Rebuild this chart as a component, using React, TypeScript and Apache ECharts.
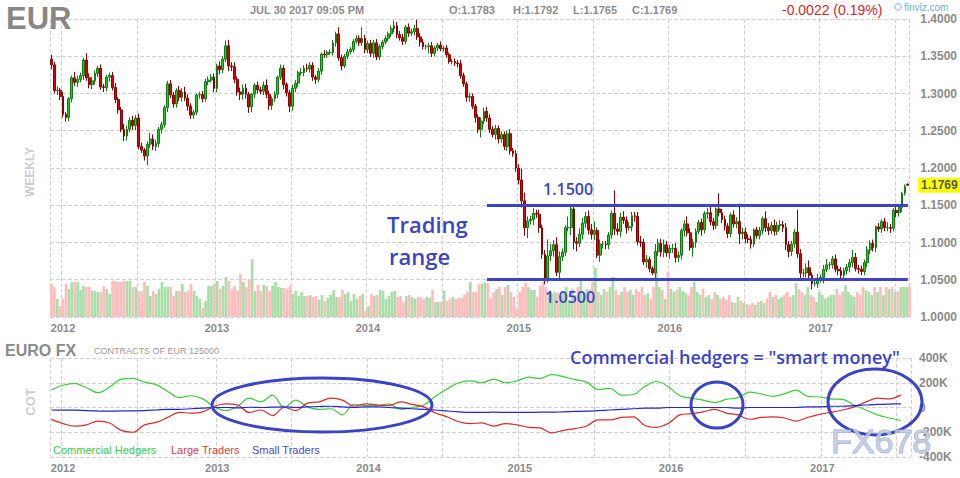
import React, { useEffect, useRef } from 'react';
import * as echarts from 'echarts';

// ---------- DATA ----------
const firstWeek = '2011-12-04';
const firstOpen = 1.346;
const lastOpen = 1.1783;

// weekly closes, Dec 2011 .. Jul 2017
const closes = [
  1.3385, 1.3040, 1.3045, 1.2960, 1.2720, 1.2680, 1.2930, 1.3210, 1.3150, 1.3190,
  1.3240, 1.3450, 1.3210, 1.3120, 1.3170, 1.3270, 1.3340, 1.3090, 1.3080, 1.3220,
  1.3240, 1.3080, 1.2920, 1.2780, 1.2520, 1.2430, 1.2520, 1.2640, 1.2570, 1.2670,
  1.2290, 1.2240, 1.2160, 1.2320, 1.2390, 1.2290, 1.2330, 1.2520, 1.2580, 1.2810,
  1.3130, 1.2980, 1.2860, 1.3040, 1.2950, 1.3020, 1.2940, 1.2830, 1.2710, 1.2750,
  1.2980, 1.2985, 1.2930, 1.3160, 1.3180, 1.3220, 1.3070, 1.3370, 1.3320, 1.3460,
  1.3640, 1.3370, 1.3360, 1.3190, 1.3020, 1.2990, 1.3070, 1.2990, 1.2820, 1.2990,
  1.3110, 1.3050, 1.3030, 1.3110, 1.2990, 1.2840, 1.2930, 1.2990, 1.3220, 1.3340,
  1.3120, 1.3010, 1.2830, 1.3070, 1.3140, 1.3280, 1.3280, 1.3340, 1.3330, 1.3380,
  1.3220, 1.3190, 1.3300, 1.3530, 1.3520, 1.3550, 1.3550, 1.3680, 1.3800, 1.3480,
  1.3370, 1.3500, 1.3560, 1.3590, 1.3700, 1.3740, 1.3680, 1.3740, 1.3590, 1.3670,
  1.3540, 1.3680, 1.3490, 1.3630, 1.3690, 1.3740, 1.3800, 1.3870, 1.3910, 1.3790,
  1.3750, 1.3700, 1.3890, 1.3810, 1.3830, 1.3870, 1.3760, 1.3690, 1.3630, 1.3630,
  1.3640, 1.3540, 1.3610, 1.3650, 1.3600, 1.3610, 1.3520, 1.3430, 1.3430, 1.3410,
  1.3400, 1.3240, 1.3130, 1.2950, 1.2960, 1.2830, 1.2680, 1.2520, 1.2630, 1.2760,
  1.2670, 1.2520, 1.2450, 1.2530, 1.2390, 1.2450, 1.2290, 1.2460, 1.2230, 1.2190,
  1.2000, 1.1840, 1.1560, 1.1200, 1.1290, 1.1310, 1.1390, 1.1380, 1.1200, 1.0840,
  1.0490, 1.0820, 1.0890, 1.0970, 1.0600, 1.0810, 1.0870, 1.1200, 1.1200, 1.1450,
  1.1010, 1.0990, 1.1110, 1.1260, 1.1350, 1.1170, 1.1110, 1.1160, 1.0830, 1.0980,
  1.0980, 1.0970, 1.1100, 1.1390, 1.1180, 1.1150, 1.1340, 1.1300, 1.1200, 1.1210,
  1.1360, 1.1350, 1.1010, 1.1000, 1.0740, 1.0770, 1.0650, 1.0590, 1.0880, 1.0990,
  1.0870, 1.0970, 1.0860, 1.0920, 1.0920, 1.0800, 1.0830, 1.1160, 1.1250, 1.1130,
  1.0930, 1.1000, 1.1150, 1.1270, 1.1170, 1.1390, 1.1400, 1.1280, 1.1230, 1.1450,
  1.1400, 1.1310, 1.1220, 1.1120, 1.1370, 1.1250, 1.1280, 1.1120, 1.1140, 1.1050,
  1.1040, 1.0980, 1.1170, 1.1090, 1.1160, 1.1320, 1.1200, 1.1160, 1.1230, 1.1150,
  1.1230, 1.1240, 1.1200, 1.0970, 1.0880, 1.0980, 1.1140, 1.0850, 1.0590, 1.0590,
  1.0660, 1.0560, 1.0450, 1.0450, 1.0520, 1.0530, 1.0640, 1.0700, 1.0700, 1.0780,
  1.0640, 1.0620, 1.0560, 1.0620, 1.0670, 1.0730, 1.0800, 1.0650, 1.0640, 1.0610,
  1.0730, 1.0900, 1.0990, 1.0930, 1.1210, 1.1180, 1.1280, 1.1200, 1.1200, 1.1190,
  1.1430, 1.1400, 1.1470, 1.1660, 1.1750, 1.1769,
];

// upper / lower shadows beyond the body, in thousandths
const upperWick = [
  6, 4, 5, 3, 6, 3, 2, 3, 8, 5,
  4, 3, 9, 6, 5, 4, 3, 5, 4, 3,
  4, 5, 6, 3, 4, 7, 5, 4, 6, 4,
  6, 5, 3, 4, 8, 6, 5, 3, 4, 3,
  4, 5, 4, 3, 6, 5, 7, 5, 4, 3,
  2, 4, 5, 4, 5, 4, 5, 3, 6, 4,
  7, 8, 5, 6, 4, 6, 5, 6, 3, 2,
  3, 5, 4, 5, 8, 5, 3, 4, 2, 5,
  4, 3, 4, 5, 4, 3, 6, 4, 6, 4,
  4, 3, 4, 2, 5, 3, 4, 4, 3, 9,
  4, 3, 4, 3, 3, 4, 4, 15, 5, 4,
  5, 4, 5, 3, 3, 4, 3, 4, 7, 5,
  5, 5, 3, 5, 4, 5, 12, 5, 4, 3,
  4, 5, 3, 3, 5, 3, 4, 3, 3, 4,
  4, 5, 4, 3, 5, 4, 3, 4, 5, 5,
  6, 5, 4, 5, 4, 4, 4, 4, 6, 4,
  5, 5, 15, 11, 6, 5, 7, 5, 6, 4,
  6, 22, 9, 6, 10, 7, 5, 3, 15, 3,
  4, 6, 8, 7, 6, 8, 8, 12, 4, 6,
  4, 4, 4, 4, 31, 8, 6, 8, 5, 6,
  5, 5, 6, 8, 5, 6, 4, 3, 10, 6,
  6, 7, 5, 5, 6, 7, 5, 3, 5, 10,
  6, 5, 4, 3, 5, 3, 6, 8, 5, 2,
  21, 5, 5, 4, 3, 6, 6, 24, 6, 6,
  6, 5, 2, 4, 5, 3, 10, 6, 5, 8,
  5, 6, 5, 6, 5, 4, 4, 30, 6, 6,
  6, 10, 4, 5, 6, 4, 6, 8, 4, 4,
  6, 5, 5, 4, 4, 5, 10, 6, 5, 5,
  4, 5, 4, 5, 2, 5, 3, 5, 7, 5,
  3, 7, 4, 2, 3, 0.9,
];
const lowerWick = [
  6, 4, 6, 5, 4, 6, 5, 5, 5, 6,
  4, 6, 4, 5, 6, 5, 5, 4, 6, 5,
  6, 4, 5, 5, 4, 7, 6, 4, 6, 6,
  4, 4, 6, 12, 5, 5, 6, 5, 6, 4,
  6, 4, 5, 5, 5, 6, 4, 6, 5, 5,
  4, 5, 5, 4, 5, 3, 5, 5, 6, 5,
  4, 7, 6, 5, 5, 8, 7, 6, 8, 7,
  5, 5, 4, 5, 5, 6, 6, 4, 5, 4,
  6, 5, 8, 6, 5, 5, 4, 5, 4, 5,
  5, 6, 4, 5, 4, 4, 3, 4, 5, 4,
  6, 3, 4, 3, 4, 3, 4, 4, 5, 5,
  5, 6, 4, 4, 4, 3, 4, 4, 5, 5,
  4, 5, 4, 5, 4, 5, 4, 6, 4, 4,
  9, 5, 4, 4, 3, 4, 4, 3, 4, 4,
  5, 4, 4, 6, 6, 4, 7, 5, 11, 4,
  5, 5, 4, 7, 6, 5, 5, 6, 5, 4,
  5, 6, 9, 11, 14, 5, 8, 5, 7, 6,
  5, 3, 7, 8, 5, 9, 6, 5, 5, 10,
  10, 11, 5, 7, 6, 6, 7, 8, 4, 9,
  6, 6, 6, 5, 8, 5, 7, 5, 8, 4,
  6, 7, 5, 6, 4, 8, 5, 3, 7, 6,
  6, 7, 5, 8, 6, 7, 6, 6, 8, 5,
  4, 12, 7, 4, 8, 5, 7, 5, 6, 5,
  5, 5, 6, 6, 5, 5, 6, 14, 8, 6,
  5, 6, 4, 4, 5, 5, 6, 6, 5, 6,
  5, 6, 6, 7, 8, 6, 5, 6, 7, 6,
  6, 7, 8, 4, 6, 6, 8, 4, 6, 5,
  4, 6, 4, 6, 5, 7, 6, 4, 6, 5,
  5, 6, 6, 5, 6, 4, 5, 5, 5, 6,
  4, 6, 5, 6, 3, 0.4,
];

// weekly volume (relative units)
const volume = [
  33, 30, 18, 11, 18, 33, 28, 35, 35, 35,
  27, 31, 30, 30, 26, 26, 25, 25, 31, 28,
  23, 36, 36, 35, 35, 36, 36, 36, 30, 30,
  25, 26, 35, 31, 21, 26, 23, 28, 35, 30,
  30, 30, 21, 26, 26, 33, 25, 26, 33, 26,
  21, 18, 9, 16, 31, 31, 33, 36, 28, 31,
  40, 36, 28, 31, 26, 43, 35, 30, 38, 58,
  26, 32, 26, 32, 31, 26, 31, 35, 30, 29,
  29, 28, 31, 23, 26, 21, 25, 21, 21, 22,
  20, 21, 17, 22, 16, 19, 22, 27, 20, 20,
  27, 23, 25, 16, 23, 18, 21, 23, 6, 11,
  23, 21, 22, 27, 26, 18, 21, 25, 26, 20,
  21, 15, 21, 22, 20, 18, 20, 20, 18, 20,
  19, 27, 15, 15, 15, 26, 16, 18, 20, 18,
  19, 19, 22, 25, 35, 25, 25, 33, 33, 34,
  34, 19, 25, 28, 30, 22, 30, 32, 25, 20,
  8, 25, 30, 34, 30, 27, 27, 20, 31, 35,
  30, 25, 23, 25, 24, 21, 25, 30, 17, 28,
  22, 30, 38, 25, 28, 27, 35, 49, 25, 22,
  28, 25, 30, 40, 27, 22, 25, 30, 25, 27,
  22, 28, 25, 30, 22, 24, 18, 30, 45, 30,
  27, 18, 45, 28, 25, 27, 30, 26, 24, 22,
  30, 35, 25, 22, 28, 20, 22, 18, 25, 22,
  18, 20, 17, 22, 15, 14, 20, 16, 14, 13,
  12, 14, 12, 15, 16, 14, 18, 25, 20, 22,
  18, 20, 22, 25, 20, 22, 34, 28, 25, 22,
  30, 22, 20, 15, 25, 22, 18, 20, 22, 22,
  28, 22, 25, 32, 25, 22, 20, 25, 22, 30,
  27, 25, 22, 30, 25, 30, 22, 30, 28, 30,
  25, 26, 30, 30, 30, 30,
];

// COT net positions (thousand contracts), one reading every 4 weeks
const cotStep = 4;
const cotHedgers = [
  144, 180, 195, 160, 120, 165, 230, 235, 205, 185,
  130, 80, 95, 70, 5, -25, 10, 75, 45, 100,
  0, 60, 5, -15, -10, -60, 25, 15, 15, 30,
  -15, 0, 20, 90, 150, 200, 215, 200, 230, 200,
  215, 245, 235, 265, 250, 225, 205, 145, 155, 100,
  105, 170, 210, 170, 95, 75, 60, 40, 65, 80,
  125, 110, 90, 110, 140, 90, 85, 70, 65, 20,
  -20, -60, -85, -105,
];
const cotLarge = [
  -96, -130, -150, -140, -110, -125, -185, -200, -140, -120,
  -80, -40, -45, -35, 10, 30, 20, -40, -20, -65,
  0, -25, 35, 45, 75, 60, 10, 30, 20, 15,
  45, 25, 5, -45, -75, -115, -130, -125, -150, -130,
  -140, -160, -165, -205, -185, -170, -150, -100, -100, -80,
  -75, -145, -160, -130, -60, -50, -35, -15, -45, -60,
  -95, -80, -75, -85, -110, -80, -55, -40, -20, 5,
  45, 75, 70, 100,
];
const cotSmall = [
  -20, -22, -22, -25, -28, -30, -28, -28, -25, -20,
  -15, -15, -10, -5, 0, 0, -3, 2, 0, 3,
  5, 0, 5, 8, 10, 5, 0, 5, 5, 0,
  -5, -10, -15, -20, -28, -35, -40, -40, -38, -40,
  -40, -40, -38, -38, -35, -32, -30, -25, -20, -15,
  -10, -5, -5, 0, 0, 0, 0, 0, 0, -5,
  0, 0, 0, 0, 0, 5, 5, 10, 10, 15,
  20, 25, 28, 30,
];

const rangeLevels = [1.15, 1.05];
const rangeStartWeek = '2014-10-19';

// ---------- derived ----------
const weeks = closes.map((_, i) => {
  const [y, m, d] = firstWeek.split('-').map(Number);
  return new Date(Date.UTC(y, m - 1, d + 7 * i)).toISOString().slice(0, 10);
});
const lastIdx = closes.length - 1;
const opens = closes.map((_, i) => (i === 0 ? firstOpen : i === lastIdx ? lastOpen : closes[i - 1]));
const candles = closes.map((c, i) => {
  const o = opens[i];
  const hi = Math.max(o, c) + (upperWick[i] ?? 3) / 1000;
  const lo = Math.min(o, c) - (lowerWick[i] ?? 3) / 1000;
  return [o, c, +lo.toFixed(4), +hi.toFixed(4)];
});
const volData = volume.slice(0, closes.length).map((v, i) => ({
  value: v,
  itemStyle: { color: closes[i] >= opens[i] ? '#a9dea9' : '#ffbcbc' },
}));
const cotSeries = (arr: number[]) =>
  arr.map((v, k) => [weeks[Math.min(k * cotStep, lastIdx)], v]);

const yr = (i: number) => weeks[i].slice(0, 4);
const mo = (i: number) => Number(weeks[i].slice(5, 7));
const isYearStart = (i: number) => i > 0 && yr(i) !== yr(i - 1);
const isMidYear = (i: number) => i > 0 && mo(i) >= 7 && mo(i - 1) < 7;

const SANS = 'Liberation Sans, Arial, sans-serif';
const ANNO = 'Open Sans, Noto Sans, sans-serif';
const BLUE = '#3b43c6';

const txt = (x: number, y: number, text: string, font: string, fill: string, extra: any = {}) => ({
  type: 'text',
  x,
  y,
  z: 100,
  ...extra,
  style: { text, font, fill, textVerticalAlign: 'middle', ...(extra.style || {}) },
});

export default function App() {
  const ref = useRef<HTMLDivElement>(null);
  useEffect(() => {
    if (!ref.current) return;
    const chart = echarts.init(ref.current, undefined, { renderer: 'svg' });
    const gridL = 50;
    const gridW = 861;
    const xBase = (gridIndex: number, showLabels: boolean) => ({
      type: 'category',
      gridIndex,
      data: weeks,
      boundaryGap: true,
      axisLine: { show: false },
      axisTick: { show: false },
      axisLabel: {
        show: showLabels,
        interval: (i: number) => isYearStart(i),
        formatter: (v: string) => v.slice(0, 4),
        color: '#8a8a8a',
        fontWeight: 'bold',
        fontSize: 11,
        fontFamily: SANS,
        margin: 5,
      },
      splitLine: {
        show: gridIndex !== 1,
        interval: (i: number) => i === 0 || isYearStart(i) || isMidYear(i),
        lineStyle: { type: 'dashed', color: '#d2d2d2', width: 1 },
      },
    });
    const graphics: any[] = [
      txt(6, 18, 'EUR', `bold 31px ${SANS}`, '#878787'),
      txt(250, 10, 'JUL 30 2017 09:05 PM', `bold 11px ${SANS}`, '#8c8c8c'),
      txt(449, 10, 'O:1.1783', `bold 11px ${SANS}`, '#8c8c8c'),
      txt(513, 10, 'H:1.1792', `bold 11px ${SANS}`, '#8c8c8c'),
      txt(573, 10, 'L:1.1765', `bold 11px ${SANS}`, '#8c8c8c'),
      txt(632, 10, 'C:1.1769', `bold 11px ${SANS}`, '#8c8c8c'),
      txt(782, 10, '-0.0022 (0.19%)', `14px ${SANS}`, '#d42626'),
      { type: 'circle', z: 100, shape: { cx: 898, cy: 7, r: 3.2 }, style: { fill: 'none', stroke: '#6ab2e2', lineWidth: 1 } },
      txt(904, 7, 'finviz.com', `10px ${SANS}`, '#6ab2e2'),
      txt(30, 172, 'WEEKLY', `bold 12px ${SANS}`, '#cdcdcd', { rotation: Math.PI / 2, style: { textAlign: 'center' } }),
      txt(30, 402, 'COT', `bold 13px ${SANS}`, '#cdcdcd', { rotation: Math.PI / 2, style: { textAlign: 'center' } }),
      txt(387, 224, 'Trading', `600 22px ${ANNO}`, BLUE),
      txt(389, 256, 'range', `600 22px ${ANNO}`, BLUE),
      txt(543, 189, '1.1500', `600 16px ${ANNO}`, BLUE),
      txt(545, 297, '1.0500', `600 16px ${ANNO}`, BLUE),
      txt(5, 350, 'EURO FX', `bold 16px ${SANS}`, '#8a8a8a'),
      txt(94, 351, 'CONTRACTS OF EUR 125000', `9px ${SANS}`, '#9a9a9a'),
      txt(570, 357, 'Commercial hedgers = "smart money"', `600 18px ${ANNO}`, BLUE),
      { type: 'ellipse', z: 100, shape: { cx: 322, cy: 405, rx: 110, ry: 27 }, style: { fill: 'none', stroke: BLUE, lineWidth: 3 } },
      { type: 'ellipse', z: 100, shape: { cx: 717, cy: 405, rx: 26, ry: 23 }, style: { fill: 'none', stroke: BLUE, lineWidth: 3 } },
      { type: 'ellipse', z: 100, shape: { cx: 875, cy: 402, rx: 47, ry: 33 }, style: { fill: 'none', stroke: BLUE, lineWidth: 3 } },
      txt(53, 450, 'Commercial Hedgers', `11px ${SANS}`, '#3ccc3c'),
      txt(171, 450, 'Large Traders', `11px ${SANS}`, '#e03c3c'),
      txt(252, 450, 'Small Traders', `11px ${SANS}`, '#4848d8'),
      txt(831, 441, 'FX678', `34px ${SANS}`, 'rgba(190,202,226,0.85)', { style: { stroke: 'rgba(150,166,200,0.9)', lineWidth: 1 } }),
    ];
    const option: any = {
      animation: false,
      backgroundColor: '#ffffff',
      grid: [
        { left: gridL, top: 19, width: gridW, height: 298 },
        { left: gridL, top: 255, width: gridW, height: 62 },
        { left: gridL, top: 358, width: gridW, height: 99 },
      ],
      xAxis: [xBase(0, true), xBase(1, false), xBase(2, true)],
      yAxis: [
        {
          gridIndex: 0,
          position: 'right',
          min: 1.0,
          max: 1.4,
          interval: 0.05,
          axisLine: { show: false },
          axisTick: { show: false },
          axisLabel: {
            formatter: (v: number) => v.toFixed(4),
            color: '#8a8a8a',
            fontWeight: 'bold',
            fontSize: 12,
            fontFamily: SANS,
            margin: 11,
          },
          splitLine: { lineStyle: { type: 'dashed', color: '#d2d2d2' } },
        },
        { gridIndex: 1, min: 0, max: 62, show: false },
        {
          gridIndex: 2,
          position: 'right',
          min: -400,
          max: 400,
          interval: 200,
          axisLine: { show: false },
          axisTick: { show: false },
          axisLabel: {
            formatter: (v: number) => (v === 0 ? '0' : v + 'K'),
            color: '#8a8a8a',
            fontWeight: 'bold',
            fontSize: 12,
            fontFamily: SANS,
            margin: 8,
          },
          splitLine: { lineStyle: { type: 'dashed', color: '#d2d2d2' } },
        },
      ],
      series: [
        {
          type: 'bar',
          xAxisIndex: 1,
          yAxisIndex: 1,
          data: volData,
          barWidth: '92%',
          silent: true,
        },
        {
          type: 'candlestick',
          xAxisIndex: 0,
          yAxisIndex: 0,
          data: candles,
          barWidth: '80%',
          itemStyle: {
            color: '#1fd01f',
            color0: '#e60000',
            borderColor: '#117a11',
            borderColor0: '#8e0000',
            borderWidth: 1,
          },
          markLine: {
            silent: true,
            symbol: ['none', 'none'],
            animation: false,
            lineStyle: { color: BLUE, width: 3, type: 'solid' },
            label: { show: false },
            data: rangeLevels.map((lv) => [
              { coord: [rangeStartWeek, lv] },
              { coord: [weeks[lastIdx], lv] },
            ]),
          },
        },
        {
          type: 'line',
          name: 'Commercial Hedgers',
          xAxisIndex: 2,
          yAxisIndex: 2,
          data: cotSeries(cotHedgers),
          smooth: 0.35,
          showSymbol: false,
          lineStyle: { color: '#3ccc3c', width: 1.2 },
        },
        {
          type: 'line',
          name: 'Large Traders',
          xAxisIndex: 2,
          yAxisIndex: 2,
          data: cotSeries(cotLarge),
          smooth: 0.35,
          showSymbol: false,
          lineStyle: { color: '#e02828', width: 1.2 },
        },
        {
          type: 'line',
          name: 'Small Traders',
          xAxisIndex: 2,
          yAxisIndex: 2,
          data: cotSeries(cotSmall),
          smooth: 0.35,
          showSymbol: false,
          lineStyle: { color: '#2424dc', width: 1.2 },
        },
      ],
      graphic: graphics,
    };
    chart.setOption(option);
    // last-price tag on the price axis, placed from the axis scale
    const py = chart.convertToPixel({ yAxisIndex: 0 }, closes[lastIdx]) as number;
    if (typeof py === 'number' && isFinite(py)) {
      chart.setOption({
        graphic: [
          ...graphics,
          txt(918, py, closes[lastIdx].toFixed(4), `bold 12px ${SANS}`, '#555555', {
            style: { backgroundColor: '#ffff00', padding: [2, 3, 1, 3] },
          }),
        ],
      });
    }
    return () => chart.dispose();
  }, []);
  return (
    <div
      ref={ref}
      style={{ position: 'fixed', left: 0, top: 0, width: 960, height: 478, background: '#fff' }}
    />
  );
}
